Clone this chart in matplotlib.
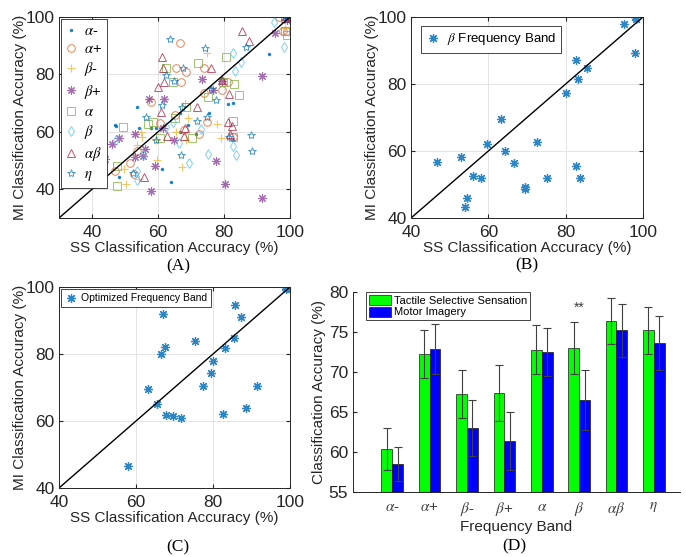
import numpy as np
import matplotlib.pyplot as plt

plt.rcParams['font.family'] = 'Liberation Sans'
plt.rcParams['mathtext.fontset'] = 'stix'

# ---- Panel A: SS vs MI accuracy per band (x = SS, y = MI) ----
am_ss = [93.5, 82.8, 81.3, 75.5, 66.8, 69.1, 53.7, 46.9, 47.4, 54.3, 58.0, 61.1, 63.8, 48.2, 59.5, 66.6, 71.5, 82.8, 99.0, 99.2]
am_mi = [87.2, 69.9, 69.7, 66.7, 66.7, 62.4, 68.8, 62.4, 62.0, 61.4, 61.4, 46.9, 42.5, 44.3, 61.2, 60.0, 59.4, 57.1, 99.6, 100.0]

ap_ss = [66.6, 65.6, 68.6, 67.1, 73.9, 74.0, 79.3, 81.3, 58.0, 65.1, 60.5, 74.7, 68.0, 72.5, 82.8, 51.6, 46.9, 52.7, 53.5, 97.8, 96.6, 99.0]
ap_mi = [90.9, 82.2, 81.0, 77.2, 73.4, 82.2, 74.6, 77.5, 70.5, 65.9, 63.2, 63.5, 60.8, 59.4, 58.3, 49.0, 46.4, 45.2, 53.3, 95.0, 100.0, 95.0]

bm_ss = [74.7, 68.2, 78.0, 79.0, 68.6, 67.4, 54.7, 53.5, 50.4, 54.3, 59.7, 55.0, 49.6, 59.5, 65.4, 69.1, 99.6, 98.5]
bm_mi = [87.4, 69.9, 62.9, 58.0, 57.1, 47.8, 60.0, 55.4, 42.0, 43.5, 50.1, 58.3, 47.2, 57.1, 60.0, 64.7, 98.8, 96.2]

bp_ss = [57.3, 61.8, 73.2, 79.3, 76.7, 91.4, 48.2, 46.2, 44.0, 56.2, 59.0, 55.5, 53.0, 64.9, 61.6, 58.0, 77.5, 80.3, 91.4, 53.0, 95.5, 99.0]
bp_mi = [71.3, 71.4, 78.3, 77.7, 74.6, 79.5, 57.7, 55.7, 50.4, 54.2, 48.1, 51.5, 51.3, 57.1, 61.2, 39.4, 49.8, 42.0, 36.9, 59.1, 94.4, 99.1]

a_ss = [62.4, 64.4, 72.2, 80.6, 83.1, 84.6, 75.0, 68.5, 79.6, 82.8, 58.5, 57.0, 60.5, 65.1, 70.4, 82.8, 49.4, 47.6, 47.7, 99.2, 98.6]
a_mi = [82.2, 77.5, 83.9, 86.0, 76.6, 72.8, 72.3, 68.8, 77.2, 63.9, 63.5, 62.7, 57.7, 64.9, 58.0, 58.3, 61.8, 48.0, 41.1, 93.6, 95.0]

b_ss = [82.6, 83.3, 98.2, 95.1, 64.6, 75.2, 83.6, 82.6, 66.5, 69.3, 55.5, 53.5, 53.7, 47.4, 62.3, 85.0, 73.0]
b_mi = [87.4, 81.2, 89.5, 98.1, 63.5, 52.2, 51.9, 55.2, 56.0, 49.0, 51.9, 46.4, 43.1, 57.1, 61.8, 84.5, 61.0]

ab_ss = [85.6, 87.6, 76.1, 61.1, 61.6, 61.8, 60.0, 81.6, 71.7, 60.9, 68.1, 67.8, 81.1, 82.5, 81.8, 62.6, 55.8, 79.3, 98.5]
ab_mi = [95.0, 91.5, 82.2, 86.2, 82.2, 77.5, 75.5, 73.2, 68.8, 67.0, 61.5, 58.5, 63.3, 62.0, 59.4, 58.5, 44.3, 78.1, 99.5]

eta_ss = [63.6, 74.2, 86.8, 67.6, 62.4, 64.9, 76.0, 77.7, 61.1, 67.4, 56.5, 74.7, 81.6, 88.2, 88.6, 67.1, 59.5, 52.5, 71.7, 98.0, 99.2]
eta_mi = [92.3, 89.2, 89.4, 82.2, 79.8, 77.7, 74.8, 71.1, 69.3, 68.8, 65.0, 65.3, 58.3, 58.9, 53.4, 52.1, 57.1, 45.5, 63.9, 100.0, 99.2]

# ---- Panel B: beta band ----
beta_ss = [46.6, 52.9, 56.0, 58.0, 54.5, 53.9, 59.7, 63.2, 64.2, 66.6, 69.6, 69.5, 72.5, 75.1, 80.0, 82.7, 83.3, 85.4, 82.8, 83.6, 95.2, 98.0, 98.2, 98.0]
beta_mi = [56.7, 58.3, 52.5, 51.9, 46.1, 43.3, 62.2, 69.5, 59.9, 56.4, 48.8, 49.2, 62.7, 51.9, 77.4, 87.1, 81.4, 84.9, 55.4, 52.0, 98.0, 100.0, 99.3, 89.3]

# ---- Panel C: optimized band ----
opt_ss = [66.9, 85.8, 87.4, 75.2, 67.6, 66.6, 85.5, 83.1, 79.9, 79.4, 77.4, 91.3, 63.2, 65.4, 67.7, 69.6, 71.6, 82.6, 88.6, 58.0, 98.8, 99.0, 99.3]
opt_mi = [92.0, 94.6, 90.9, 83.9, 82.1, 79.9, 84.9, 81.9, 77.9, 74.3, 70.4, 70.3, 69.5, 65.1, 61.8, 61.5, 60.8, 62.1, 63.8, 46.5, 100.0, 99.5, 99.8]

# ---- Panel D: mean accuracy per band ----
bands = [r'$\alpha$-', r'$\alpha$+', r'$\beta$-', r'$\beta$+', r'$\alpha$', r'$\beta$', r'$\alpha\beta$', r'$\eta$']
tss_mean = [60.4, 72.3, 67.3, 67.4, 72.8, 73.0, 76.4, 75.2]
tss_err = [2.6, 3.0, 3.0, 3.5, 3.1, 3.2, 2.9, 2.9]
mi_mean = [58.5, 72.9, 63.0, 61.4, 72.5, 66.5, 75.2, 73.6]
mi_err = [2.1, 3.1, 3.5, 3.6, 3.0, 3.7, 3.3, 3.4]

W, H = 686, 557
fig = plt.figure(figsize=(W / 100, H / 100), dpi=100)

# matlab style asterisk (+ and x together)
ASTER = (8, 2, 0)


def px_axes(l, t, r, b):
    # axes from pixel box (left, top, right, bottom)
    return fig.add_axes([l / W, 1 - b / H, (r - l) / W, (b - t) / H])


def style_scatter_ax(ax, lo):
    ax.set_xlim(lo, 100)
    ax.set_ylim(lo, 100)
    ax.set_xticks([40, 60, 80, 100])
    ax.set_yticks([40, 60, 80, 100])
    ax.grid(True, color='#e4e4e4', linewidth=0.7)
    ax.set_axisbelow(True)
    ax.tick_params(direction='in', labelsize=12.5, colors='#262626', length=3,
                   top=True, right=True)
    ax.tick_params(axis='x', pad=5)
    ax.tick_params(axis='y', pad=3)
    for s in ax.spines.values():
        s.set_color('#262626')
        s.set_linewidth(0.7)
    ax.plot([lo, 100], [lo, 100], color='black', linewidth=1)
    ax.set_xlabel('SS Classification Accuracy (%)', fontsize=11, color='#262626', labelpad=1)
    ax.set_ylabel('MI Classification Accuracy (%)', fontsize=11, color='#262626', labelpad=-1)


# Panel A
axA = px_axes(59, 17, 290, 218)
series = [
    (am_ss, am_mi, '.', '#0072BD', r'$\alpha$-'),
    (ap_ss, ap_mi, 'o', '#D95319', r'$\alpha$+'),
    (bm_ss, bm_mi, '+', '#EDB120', r'$\beta$-'),
    (bp_ss, bp_mi, ASTER, '#7E2F8E', r'$\beta$+'),
    (a_ss, a_mi, 's', '#77AC30', r'$\alpha$'),
    (b_ss, b_mi, 'd', '#4DBEEE', r'$\beta$'),
    (ab_ss, ab_mi, '^', '#A2142F', r'$\alpha\beta$'),
    (eta_ss, eta_mi, '*', '#0072BD', r'$\eta$'),
]
for xs, ys, mk, col, lab in series:
    if mk == '.':
        axA.plot(xs, ys, linestyle='none', marker=mk, color=col, markersize=3,
                 alpha=0.8, label=lab)
    elif mk in ['+', ASTER]:
        axA.plot(xs, ys, linestyle='none', marker=mk, color=col, markersize=6,
                 markeredgewidth=0.8, alpha=0.7, label=lab)
    else:
        axA.plot(xs, ys, linestyle='none', marker=mk, markerfacecolor='none', markeredgecolor=col,
                 markersize=6 if mk == '*' else 5.5, markeredgewidth=0.7, alpha=0.7, label=lab)
style_scatter_ax(axA, 30)
legA = axA.legend(loc='upper left', fontsize=10.5, handlelength=0.7, handletextpad=0.5,
                  labelspacing=0.28, borderaxespad=0.15, borderpad=0.35, fancybox=False,
                  edgecolor='#262626', framealpha=1)
legA.get_frame().set_linewidth(0.6)

# Panel B
axB = px_axes(411, 17, 643, 218)
axB.plot(beta_ss, beta_mi, linestyle='none', marker=ASTER, color='#2f86c4', markersize=6.5,
         markeredgewidth=0.9, label=r'$\beta$ Frequency Band')
style_scatter_ax(axB, 40)
legB = axB.legend(loc='upper left', fontsize=9.5, handlelength=1.0, handletextpad=0.5,
                  borderaxespad=0.0, bbox_to_anchor=(0.045, 0.955), fancybox=False,
                  edgecolor='#262626', framealpha=1)
legB.get_frame().set_linewidth(0.6)

# Panel C
axC = px_axes(59, 287, 290, 488)
axC.plot(opt_ss, opt_mi, linestyle='none', marker=ASTER, color='#2f86c4', markersize=6.5,
         markeredgewidth=0.9, label='Optimized Frequency Band')
style_scatter_ax(axC, 40)
legC = axC.legend(loc='upper left', fontsize=7.5, handlelength=1.0, handletextpad=0.5,
                  borderaxespad=0.0, bbox_to_anchor=(0.01, 0.99), fancybox=False,
                  edgecolor='#262626', framealpha=1)
legC.get_frame().set_linewidth(0.6)

# Panel D
axD = px_axes(353, 292, 680, 492)
x = np.arange(1, len(bands) + 1)
bw = 0.29
axD.bar(x - bw / 2, tss_mean, bw, color='#00FF00', edgecolor='#1a1a1a', linewidth=0.5,
        label='Tactile Selective Sensation')
axD.bar(x + bw / 2, mi_mean, bw, color='#0000FF', edgecolor='#1a1a1a', linewidth=0.5,
        label='Motor Imagery')
axD.errorbar(x - bw / 2, tss_mean, yerr=tss_err, fmt='none', ecolor='#404040', elinewidth=0.8,
             capsize=3, capthick=0.8)
axD.errorbar(x + bw / 2, mi_mean, yerr=mi_err, fmt='none', ecolor='#404040', elinewidth=0.8,
             capsize=3, capthick=0.8)
axD.text(6, 78.0, '**', ha='center', va='center', fontsize=10, color='#404040')
axD.set_xlim(-0.05, 8.7)
axD.set_ylim(55, 80)
axD.set_yticks([55, 60, 65, 70, 75, 80])
axD.set_xticks(x)
axD.set_xticklabels(bands, fontsize=11, color='#404040')
axD.tick_params(axis='y', labelsize=12.5, colors='#262626', direction='in', length=3)
axD.tick_params(axis='x', direction='in', length=0, pad=6)
axD.spines['top'].set_visible(False)
axD.spines['right'].set_visible(False)
for s in ['left', 'bottom']:
    axD.spines[s].set_color('#262626')
    axD.spines[s].set_linewidth(0.7)
axD.set_xlabel('Frequency Band', fontsize=11, color='#262626', labelpad=1)
axD.set_ylabel('Classification Accuracy (%)', fontsize=11, color='#262626', labelpad=2)
legD = axD.legend(loc='upper left', bbox_to_anchor=(0.04, 1.0), fontsize=8, handlelength=2.0,
                  handleheight=1.0, handletextpad=0.3, labelspacing=0.1, borderaxespad=0.0,
                  borderpad=0.25, fancybox=False, edgecolor='#262626', framealpha=1)
legD.get_frame().set_linewidth(0.6)

# panel letters
for lab, xc, yc in [('(A)', 178, 266), ('(B)', 527, 265), ('(C)', 178, 547), ('(D)', 514, 546)]:
    fig.text(xc / W, 1 - yc / H, lab, ha='center', va='center', fontsize=12.5,
             family='Liberation Serif')

fig.savefig('out.png', dpi=100)
